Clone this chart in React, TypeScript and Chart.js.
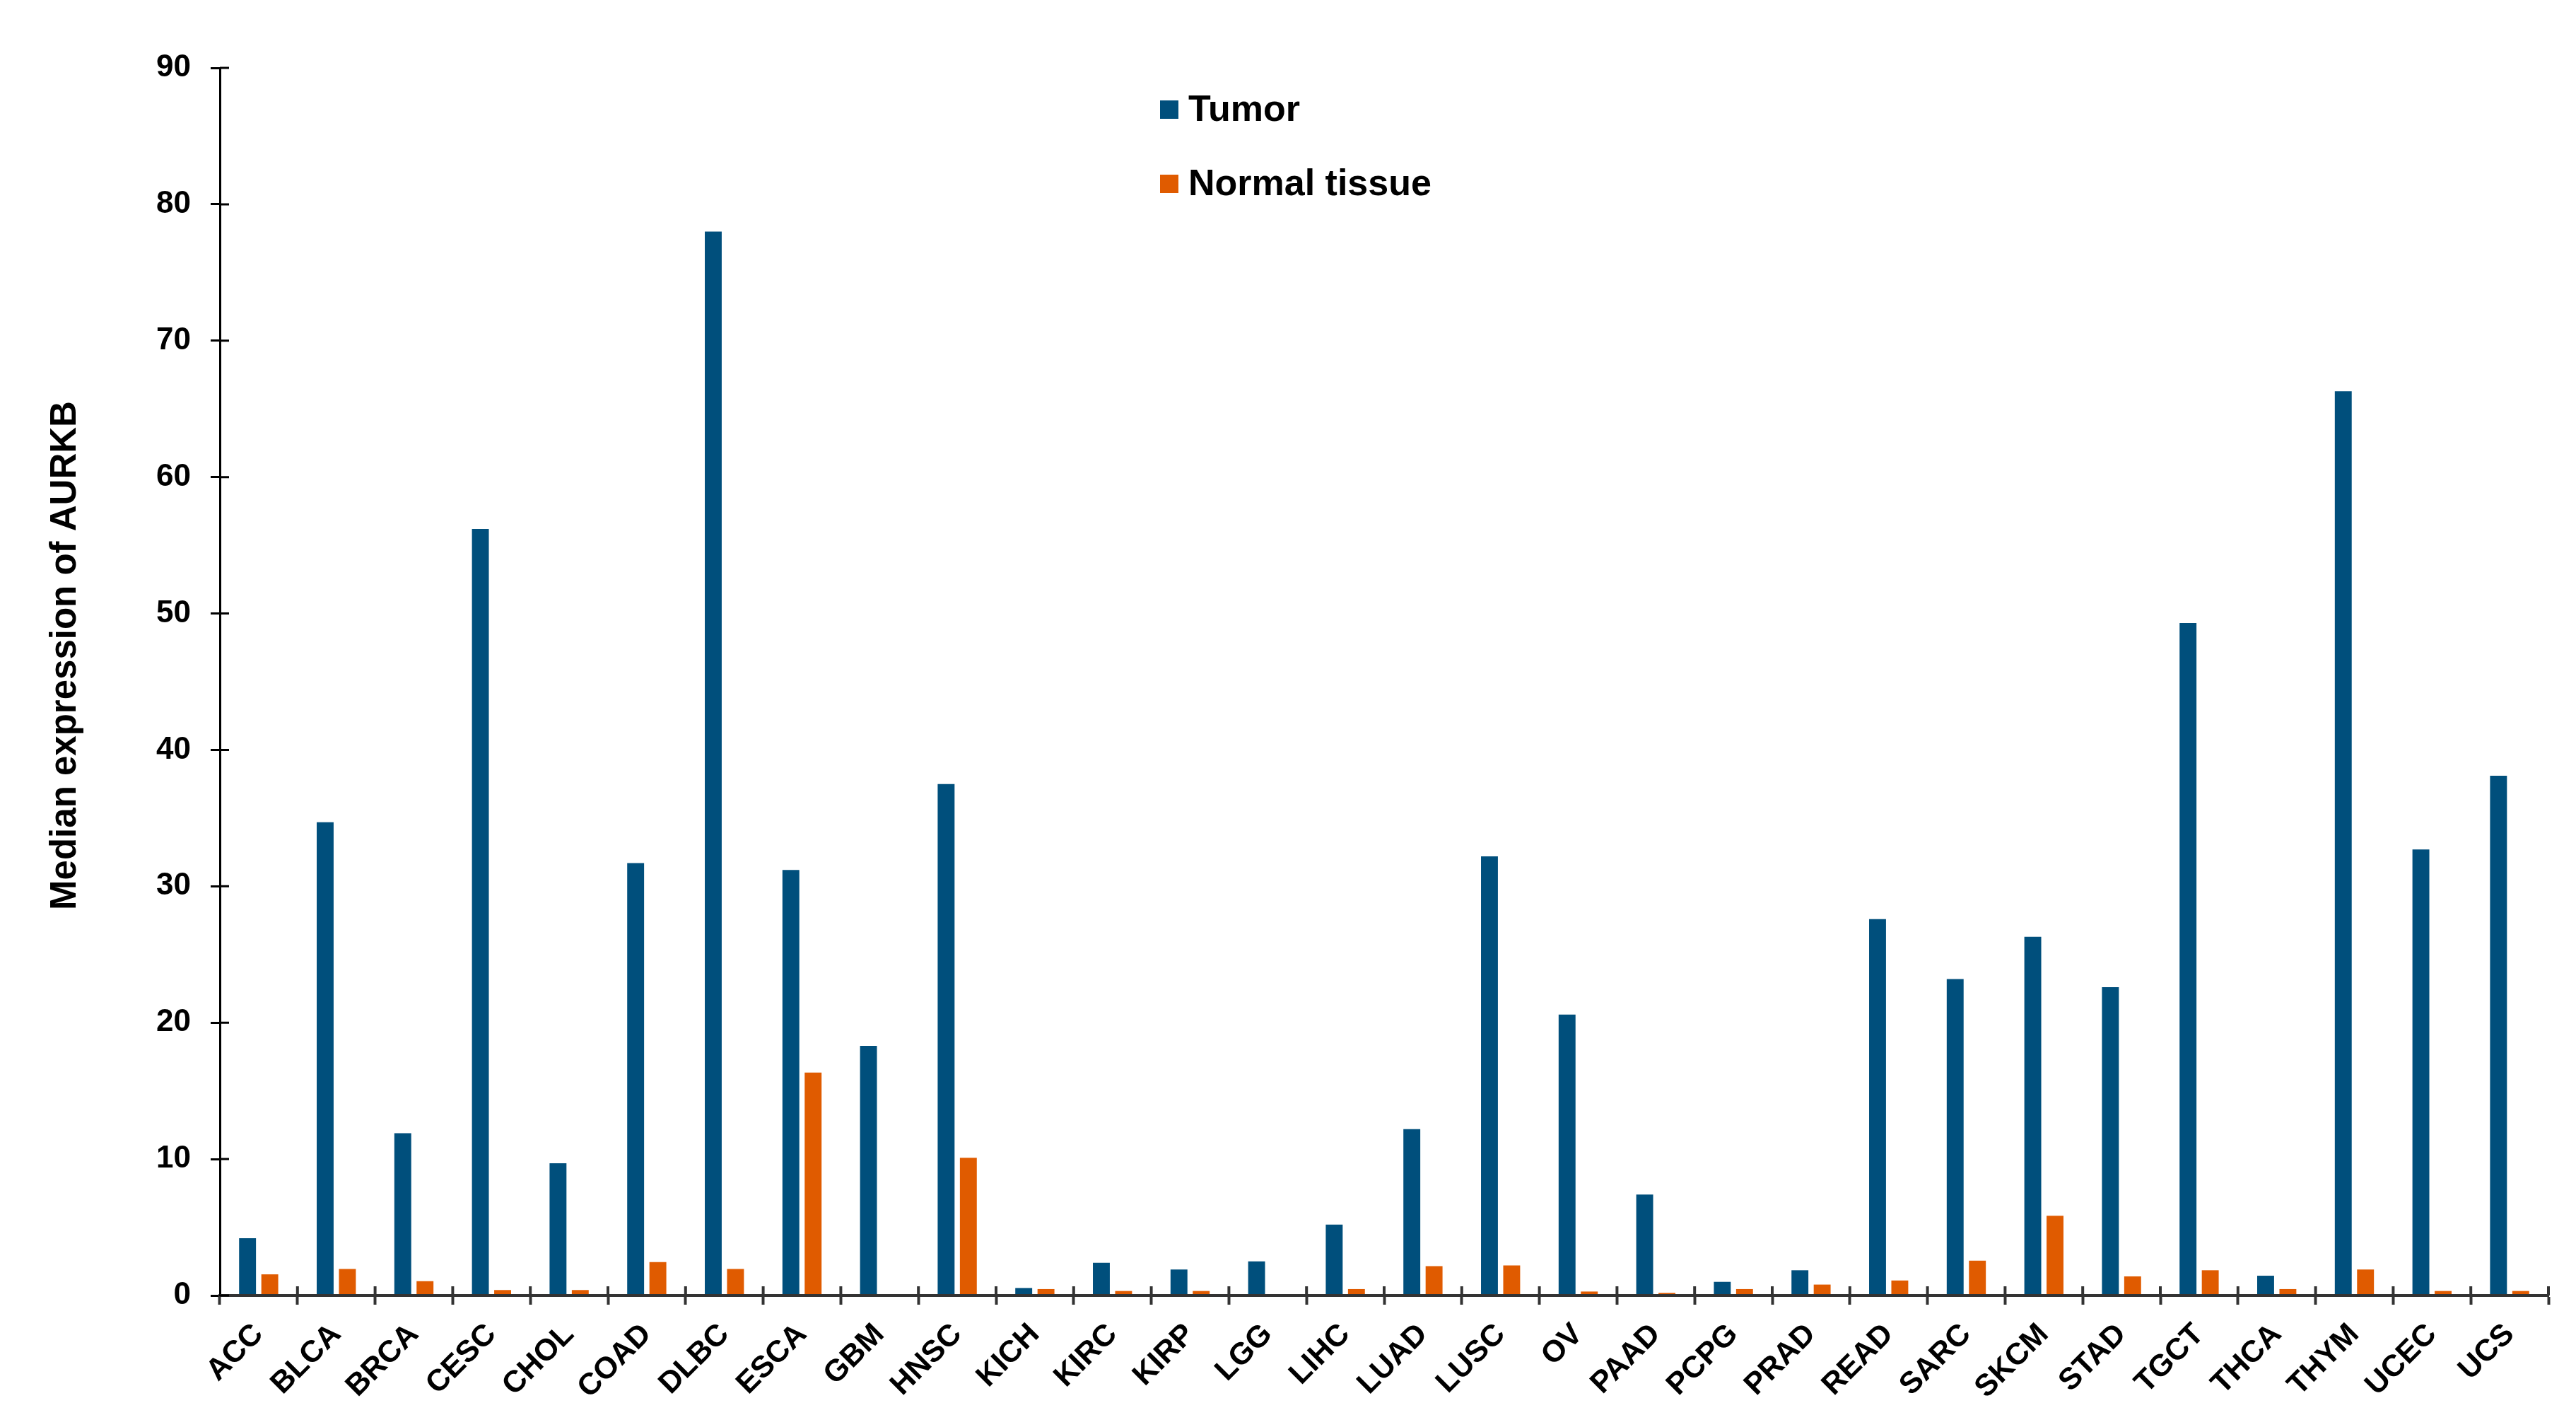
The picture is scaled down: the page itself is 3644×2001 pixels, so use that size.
import { useEffect, useRef } from "react";
import { Chart, registerables, type Plugin } from "chart.js";

Chart.register(...registerables);

/* Cancer types on the x axis */
const CANCER_TYPES = [
  "ACC", "BLCA", "BRCA", "CESC", "CHOL", "COAD", "DLBC", "ESCA", "GBM", "HNSC",
  "KICH", "KIRC", "KIRP", "LGG", "LIHC", "LUAD", "LUSC", "OV", "PAAD", "PCPG",
  "PRAD", "READ", "SARC", "SKCM", "STAD", "TGCT", "THCA", "THYM", "UCEC", "UCS",
];

/* Median AURKB expression */
const TUMOR = [
  4.2, 34.7, 11.9, 56.2, 9.7, 31.7, 78.0, 31.2, 18.3, 37.5,
  0.55, 2.4, 1.9, 2.5, 5.2, 12.2, 32.2, 20.6, 7.4, 1.0,
  1.85, 27.6, 23.2, 26.3, 22.6, 49.3, 1.45, 66.3, 32.7, 38.1,
];
const NORMAL = [
  1.55, 1.95, 1.05, 0.4, 0.4, 2.45, 1.95, 16.35, 0, 10.1,
  0.47, 0.33, 0.33, 0, 0.47, 2.15, 2.2, 0.29, 0.19, 0.47,
  0.8, 1.1, 2.55, 5.85, 1.4, 1.85, 0.47, 1.9, 0.33, 0.33,
];

const SERIES = ["Tumor", "Normal tissue"];
const COLORS = ["#004f7c", "#e05b00"];
const Y_TITLE = "Median expression of AURKB";
const Y_MAX = 90;
const Y_STEP = 10;

const FONT = "'Liberation Sans', Arial, sans-serif";
const TICK_LEN = 13;

/* ticks in the reference cross the axis lines, so draw the inner halves too */
const crossTicks: Plugin<"bar"> = {
  id: "crossTicks",
  afterDatasetsDraw(chart) {
    const { ctx, chartArea, scales } = chart;
    const x = scales.x;
    const y = scales.y;
    const base = y.getPixelForValue(0);
    ctx.save();
    ctx.strokeStyle = "#333";
    ctx.lineWidth = 4;
    ctx.beginPath();
    ctx.moveTo(chartArea.left, base);
    ctx.lineTo(chartArea.right, base);
    for (let i = 1; i <= x.ticks.length; i++) {
      const px = x.getPixelForValue(i - 0.5);
      ctx.moveTo(px, base - TICK_LEN);
      ctx.lineTo(px, base);
    }
    ctx.stroke();
    ctx.strokeStyle = "#000";
    ctx.lineWidth = 3;
    ctx.beginPath();
    y.ticks.forEach((_, i) => {
      const py = y.getPixelForTick(i);
      ctx.moveTo(chartArea.left, py);
      ctx.lineTo(chartArea.left + TICK_LEN, py);
    });
    ctx.stroke();
    ctx.restore();
  },
};

/* legend stacked inside the plot, plus the y title */
const annotations: Plugin<"bar"> = {
  id: "annotations",
  afterDraw(chart) {
    const { ctx } = chart;
    ctx.save();
    ctx.font = `bold 52px ${FONT}`;
    ctx.textBaseline = "middle";
    chart.data.datasets.forEach((ds, i) => {
      const cy = 155 + i * 105;
      ctx.fillStyle = ds.backgroundColor as string;
      ctx.fillRect(1641, cy - 13, 26, 26);
      ctx.fillStyle = "#000";
      ctx.textAlign = "left";
      ctx.fillText(ds.label ?? "", 1681, cy + 2);
    });
    ctx.font = `bold 51px ${FONT}`;
    ctx.translate(93, 927);
    ctx.rotate(-Math.PI / 2);
    ctx.textAlign = "center";
    ctx.fillText(Y_TITLE, 0, 0);
    ctx.restore();
  },
};

export default function App() {
  const canvasRef = useRef<HTMLCanvasElement>(null);

  useEffect(() => {
    if (!canvasRef.current) return;
    const chart = new Chart(canvasRef.current, {
      type: "bar",
      data: {
        labels: CANCER_TYPES,
        datasets: [
          { label: SERIES[0], data: TUMOR, backgroundColor: COLORS[0] },
          { label: SERIES[1], data: NORMAL, backgroundColor: COLORS[1] },
        ],
      },
      options: {
        responsive: false,
        devicePixelRatio: 1,
        animation: false,
        layout: { padding: { top: 96, right: 39, left: 0, bottom: 0 } },
        datasets: { bar: { categoryPercentage: 0.573, barPercentage: 0.76 } },
        plugins: {
          legend: { display: false },
          tooltip: { enabled: false },
        },
        scales: {
          x: {
            afterFit: (s) => { s.height = 169; },
            border: { display: true, color: "#333", width: 4 },
            grid: {
              display: true,
              offset: true,
              drawOnChartArea: false,
              drawTicks: true,
              tickLength: TICK_LEN,
              tickWidth: 4,
              tickColor: "#333",
            },
            ticks: {
              autoSkip: false,
              minRotation: 45,
              maxRotation: 45,
              padding: 17,
              color: "#000",
              font: { family: FONT, size: 43, weight: "bold" },
            },
          },
          y: {
            min: 0,
            max: Y_MAX,
            afterFit: (s) => { s.width = 311; },
            border: { display: true, color: "#000", width: 3 },
            grid: {
              display: true,
              drawOnChartArea: false,
              drawTicks: true,
              tickLength: TICK_LEN,
              tickWidth: 3,
              tickColor: "#000",
            },
            ticks: {
              stepSize: Y_STEP,
              padding: 28,
              color: "#000",
              font: { family: FONT, size: 44, weight: "bold" },
            },
          },
        },
      },
      plugins: [crossTicks, annotations],
    });
    return () => chart.destroy();
  }, []);

  return (
    <div style={{ position: "absolute", left: 0, top: 0, width: 3644, height: 2001, background: "#fff" }}>
      <canvas ref={canvasRef} width={3644} height={2001} style={{ width: 3644, height: 2001 }} />
    </div>
  );
}
